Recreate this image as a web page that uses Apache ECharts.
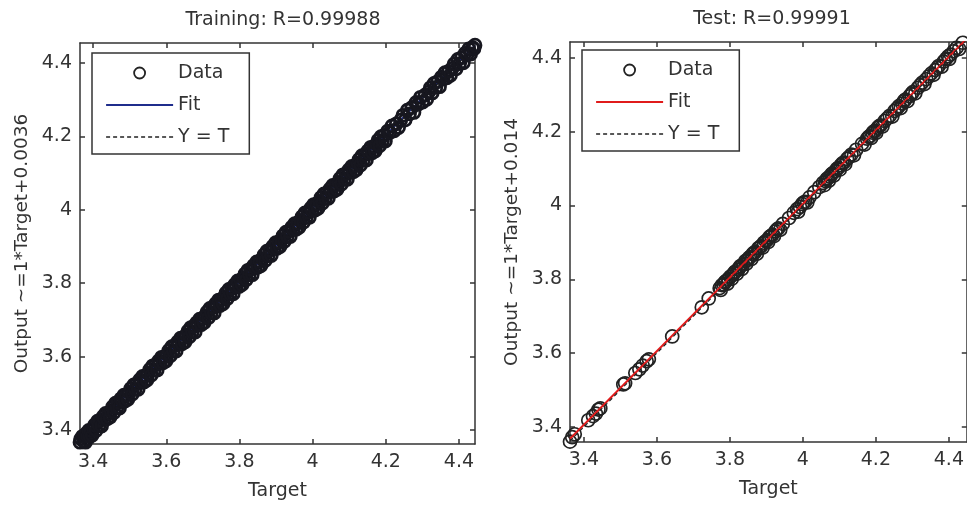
<!DOCTYPE html>
<html>
<head>
<meta charset="utf-8">
<script src="https://cdn.jsdelivr.net/npm/echarts@6/dist/echarts.min.js"></script>
<style>html,body{margin:0;padding:0;background:#fff}#c{width:967px;height:508px}</style>
</head>
<body>
<div id="c"></div>
<script>
// ---- data ----
const tickValues = [3.4, 3.6, 3.8, 4.0, 4.2, 4.4];
const titles = ['Training: R=0.99988', 'Test: R=0.99991'];
const yNames = ['Output ~=1*Target+0.0036', 'Output ~=1*Target+0.014'];
const xName = 'Target';

// [target, output]
const trainPoints = [
[3.364,3.367],[3.366,3.376],[3.369,3.360],[3.371,3.383],[3.374,3.370],[3.377,3.384],[3.379,3.367],[3.382,3.391],[3.385,3.384],[3.388,3.399],
[3.391,3.383],[3.394,3.399],[3.397,3.386],[3.401,3.404],[3.404,3.414],[3.408,3.399],[3.412,3.424],[3.416,3.412],[3.419,3.426],[3.423,3.411],
[3.427,3.436],[3.431,3.430],[3.434,3.445],[3.438,3.430],[3.442,3.447],[3.446,3.435],[3.449,3.452],[3.453,3.463],[3.457,3.448],[3.461,3.473],
[3.465,3.461],[3.468,3.475],[3.472,3.460],[3.476,3.485],[3.480,3.479],[3.484,3.495],[3.487,3.479],[3.491,3.496],[3.495,3.484],[3.499,3.502],
[3.503,3.513],[3.507,3.498],[3.511,3.523],[3.515,3.511],[3.519,3.526],[3.523,3.511],[3.527,3.536],[3.531,3.530],[3.535,3.546],[3.539,3.531],
[3.543,3.548],[3.547,3.536],[3.551,3.554],[3.555,3.565],[3.559,3.550],[3.563,3.575],[3.567,3.563],[3.571,3.578],[3.575,3.563],[3.579,3.588],
[3.583,3.582],[3.587,3.598],[3.591,3.583],[3.595,3.600],[3.599,3.588],[3.603,3.606],[3.607,3.617],[3.611,3.602],[3.615,3.627],[3.619,3.615],
[3.623,3.630],[3.627,3.615],[3.631,3.640],[3.635,3.634],[3.639,3.650],[3.643,3.635],[3.647,3.652],[3.651,3.640],[3.655,3.658],[3.659,3.669],
[3.663,3.654],[3.667,3.679],[3.671,3.667],[3.675,3.682],[3.679,3.667],[3.683,3.692],[3.687,3.686],[3.691,3.702],[3.695,3.687],[3.699,3.704],
[3.703,3.692],[3.707,3.710],[3.711,3.721],[3.715,3.706],[3.719,3.731],[3.723,3.719],[3.727,3.734],[3.731,3.719],[3.735,3.744],[3.739,3.738],
[3.743,3.754],[3.747,3.739],[3.751,3.756],[3.755,3.744],[3.759,3.762],[3.763,3.773],[3.767,3.758],[3.771,3.783],[3.775,3.771],[3.779,3.786],
[3.783,3.771],[3.787,3.796],[3.791,3.790],[3.795,3.806],[3.799,3.791],[3.803,3.808],[3.807,3.796],[3.811,3.814],[3.815,3.825],[3.819,3.810],
[3.823,3.835],[3.827,3.823],[3.831,3.838],[3.835,3.823],[3.839,3.848],[3.843,3.842],[3.847,3.858],[3.851,3.843],[3.855,3.860],[3.859,3.848],
[3.863,3.866],[3.867,3.877],[3.871,3.862],[3.875,3.887],[3.879,3.875],[3.883,3.890],[3.887,3.875],[3.891,3.900],[3.895,3.894],[3.899,3.910],
[3.903,3.895],[3.907,3.912],[3.911,3.900],[3.915,3.918],[3.919,3.929],[3.923,3.914],[3.927,3.939],[3.931,3.927],[3.935,3.942],[3.939,3.927],
[3.943,3.952],[3.947,3.946],[3.951,3.962],[3.955,3.947],[3.959,3.964],[3.963,3.952],[3.967,3.970],[3.971,3.981],[3.975,3.966],[3.979,3.991],
[3.983,3.979],[3.987,3.994],[3.991,3.979],[3.995,4.004],[3.999,3.998],[4.003,4.014],[4.007,3.999],[4.011,4.016],[4.015,4.004],[4.019,4.022],
[4.023,4.033],[4.027,4.018],[4.031,4.043],[4.035,4.031],[4.039,4.046],[4.043,4.031],[4.047,4.056],[4.051,4.050],[4.055,4.066],[4.059,4.051],
[4.063,4.068],[4.067,4.056],[4.071,4.074],[4.075,4.085],[4.079,4.070],[4.083,4.095],[4.087,4.083],[4.091,4.098],[4.095,4.083],[4.099,4.108],
[4.103,4.102],[4.107,4.118],[4.111,4.103],[4.115,4.120],[4.119,4.108],[4.123,4.126],[4.127,4.137],[4.131,4.122],[4.135,4.147],[4.139,4.135],
[4.143,4.150],[4.147,4.135],[4.151,4.160],[4.155,4.154],[4.159,4.170],[4.163,4.155],[4.167,4.172],[4.171,4.160],[4.175,4.178],[4.179,4.189],
[4.183,4.174],[4.187,4.199],[4.191,4.187],[4.195,4.202],[4.199,4.187],[4.205,4.214],[4.211,4.210],[4.217,4.228],[4.223,4.215],[4.229,4.234],
[4.235,4.224],[4.241,4.244],[4.247,4.257],[4.253,4.244],[4.259,4.271],[4.265,4.261],[4.271,4.278],[4.277,4.265],[4.283,4.292],[4.289,4.288],
[4.295,4.306],[4.301,4.293],[4.307,4.312],[4.312,4.301],[4.317,4.320],[4.322,4.332],[4.327,4.318],[4.332,4.344],[4.337,4.333],[4.342,4.349],
[4.347,4.335],[4.352,4.361],[4.357,4.356],[4.362,4.373],[4.367,4.359],[4.372,4.377],[4.377,4.366],[4.382,4.385],[4.387,4.397],[4.392,4.383],
[4.397,4.409],[4.402,4.398],[4.407,4.414],[4.412,4.400],[4.417,4.426],[4.422,4.421],[4.427,4.438],[4.432,4.424],[4.437,4.442],[4.441,4.438],
[4.444,4.448]
];

const testPoints = [
[3.362,3.360],[3.368,3.372],[3.375,3.380],[3.412,3.418],[3.425,3.429],[3.433,3.436],[3.440,3.447],[3.445,3.450],[3.508,3.515],[3.513,3.518],
[3.541,3.546],[3.552,3.556],[3.561,3.566],[3.572,3.578],[3.578,3.583],[3.642,3.645],[3.723,3.724],[3.742,3.748],[3.772,3.776],[3.778,3.784],
[3.783,3.786],[3.789,3.795],[3.796,3.801],[3.801,3.807],[3.808,3.812],[3.815,3.821],[3.823,3.826],[3.829,3.836],[3.836,3.840],[3.842,3.849],
[3.848,3.852],[3.856,3.861],[3.862,3.868],[3.869,3.873],[3.878,3.884],[3.886,3.890],[3.893,3.899],[3.902,3.906],[3.908,3.914],[3.917,3.921],
[3.925,3.930],[3.933,3.938],[3.945,3.950],[3.962,3.966],[3.975,3.980],[3.984,3.990],[3.992,3.996],[3.998,4.004],[4.006,4.010],[4.018,4.022],
[4.031,4.036],[4.045,4.050],[4.055,4.061],[4.062,4.066],[4.068,4.074],[4.074,4.078],[4.081,4.087],[4.089,4.093],[4.097,4.102],[4.104,4.109],
[4.112,4.116],[4.121,4.126],[4.133,4.138],[4.146,4.151],[4.162,4.167],[4.176,4.181],[4.184,4.188],[4.191,4.197],[4.198,4.202],[4.205,4.211],
[4.213,4.217],[4.224,4.229],[4.238,4.243],[4.251,4.256],[4.263,4.269],[4.272,4.276],[4.281,4.287],[4.292,4.296],[4.301,4.307],[4.315,4.319],
[4.327,4.333],[4.338,4.342],[4.352,4.358],[4.363,4.367],[4.372,4.378],[4.386,4.390],[4.398,4.404],[4.405,4.409],[4.421,4.427],[4.438,4.441],
[4.447,4.452],
[3.775,3.771],[3.786,3.792],[3.793,3.788],[3.805,3.801],[3.812,3.818],[3.819,3.815],[3.826,3.832],[3.833,3.828],[3.845,3.842],[3.852,3.858],
[3.859,3.855],[3.866,3.872],[3.874,3.869],[3.882,3.887],[3.890,3.886],[3.898,3.903],[3.905,3.901],[3.913,3.918],[3.921,3.917],[3.929,3.935],
[3.938,3.934],[3.987,3.983],[4.002,4.008],[4.012,4.008],[4.059,4.055],[4.065,4.071],[4.071,4.067],[4.078,4.084],[4.085,4.081],[4.093,4.099],
[4.101,4.097],[4.108,4.114],[4.116,4.112],[4.126,4.131],[4.140,4.136],[4.169,4.165],[4.180,4.186],[4.187,4.183],[4.195,4.201],[4.201,4.197],
[4.209,4.215],[4.218,4.214],[4.231,4.236],[4.245,4.241],[4.257,4.262],[4.268,4.264],[4.277,4.283],[4.287,4.283],[4.297,4.302],[4.308,4.304],
[4.321,4.326],[4.333,4.329],[4.345,4.350],[4.358,4.354],[4.368,4.373],[4.380,4.376],[4.392,4.397],[4.401,4.397],[4.413,4.418],[4.428,4.424],
[4.443,4.447]
];

const trainFit = [[3.364, 3.3676], [4.444, 4.4476]];
const testFit = [[3.362, 3.368], [4.449, 4.452]];
const trainIdeal = [[3.364, 3.364], [4.444, 4.444]];
const testIdeal = [[3.362, 3.362], [4.449, 4.449]];

// ---- styling ----
const FONT = 'DejaVu Sans';
const TXT = '#333';
const AX = '#333';
const ranges = [
  {x: [3.364, 4.444], y: [3.362, 4.454]},
  {x: [3.362, 4.449], y: [3.359, 4.443]}
];

function axis(dim, g, pos, main) {
  const r = ranges[g][dim];
  const a = {
    type: 'value', gridIndex: g, position: pos, min: r[0], max: r[1],
    axisLine: {show: true, onZero: false, lineStyle: {color: AX, width: 1.5}},
    axisTick: {show: true, inside: true, length: 5, customValues: tickValues, lineStyle: {color: AX, width: 1.5}},
    axisLabel: {show: main, customValues: tickValues, color: TXT, fontSize: 19, fontFamily: FONT, margin: dim === 'x' ? 9 : 8},
    splitLine: {show: false}
  };
  if (main) {
    a.name = dim === 'x' ? xName : yNames[g];
    a.nameLocation = 'middle';
    a.nameGap = dim === 'x' ? 38 : 48;
    a.nameTextStyle = {color: TXT, fontSize: dim === 'x' ? 19 : 18.5, fontFamily: FONT};
  }
  return a;
}

const chart = echarts.init(document.getElementById('c'), null, {renderer: 'canvas'});

function legendCfg(left, top, sfx, fitColor) {
  return {
    show: true, orient: 'vertical', left: left, top: top,
    selectedMode: false,
    backgroundColor: '#fff', borderColor: AX, borderWidth: 1.5, borderRadius: 0,
    padding: [10, 20, 7, 13],
    itemWidth: 67, itemHeight: 11, itemGap: 12,
    textStyle: {color: TXT, fontSize: 19, fontFamily: FONT, lineHeight: 20},
    formatter: n => n.trim(),
    data: [
      {name: 'Data' + sfx, icon: 'circle', itemStyle: {color: 'rgba(0,0,0,0)', borderColor: '#222', borderWidth: 1.8}},
      {name: 'Fit' + sfx, itemStyle: {opacity: 0}, lineStyle: {color: fitColor, width: 2.2, opacity: 1}},
      {name: 'Y = T' + sfx, itemStyle: {opacity: 0}, lineStyle: {color: '#222', width: 1.5, type: [4, 3], opacity: 1}}
    ]
  };
}

const option = {
  backgroundColor: '#fff',
  animation: false,
  title: [
    {text: titles[0], left: 278, top: 6, textAlign: 'center', textStyle: {color: TXT, fontSize: 19, fontWeight: 'normal', fontFamily: FONT}},
    {text: titles[1], left: 767, top: 5, textAlign: 'center', textStyle: {color: TXT, fontSize: 19, fontWeight: 'normal', fontFamily: FONT}}
  ],
  grid: [
    {left: 80, top: 43, width: 395, height: 401, containLabel: false},
    {left: 570, top: 42, width: 400, height: 400, containLabel: false}
  ],
  xAxis: [axis('x', 0, 'bottom', true), axis('x', 0, 'top', false), axis('x', 1, 'bottom', true), axis('x', 1, 'top', false)],
  yAxis: [axis('y', 0, 'left', true), axis('y', 0, 'right', false), axis('y', 1, 'left', true), axis('y', 1, 'right', false)],
  legend: [legendCfg(92, 53, '', '#1f2d8c'), legendCfg(582, 50, ' ', '#e01b1b')],
  series: [
    {name: 'Fit', type: 'line', xAxisIndex: 0, yAxisIndex: 0, data: trainFit, symbol: 'none', lineStyle: {color: '#1f2d8c', width: 2}, itemStyle: {color: '#1f2d8c'}, z: 2},
    {name: 'Data', type: 'scatter', xAxisIndex: 0, yAxisIndex: 0, data: trainPoints, symbol: 'circle', symbolSize: 12,
      itemStyle: {color: 'rgba(0,0,0,0)', borderColor: '#17171f', borderWidth: 2.8, opacity: 1}, z: 3},
    {name: 'Y = T', type: 'line', xAxisIndex: 0, yAxisIndex: 0, data: trainIdeal, symbol: 'none', lineStyle: {color: '#222', width: 1.2, type: [4, 3]}, itemStyle: {color: '#222'}, z: 2},

    {name: 'Data ', type: 'scatter', xAxisIndex: 2, yAxisIndex: 2, data: testPoints, symbol: 'circle', symbolSize: 13,
      itemStyle: {color: 'rgba(0,0,0,0)', borderColor: '#222', borderWidth: 1.7, opacity: 1}, z: 2},
    {name: 'Fit ', type: 'line', xAxisIndex: 2, yAxisIndex: 2, data: testFit, symbol: 'none', lineStyle: {color: '#e01b1b', width: 2}, itemStyle: {color: '#e01b1b'}, z: 3},
    {name: 'Y = T ', type: 'line', xAxisIndex: 2, yAxisIndex: 2, data: testIdeal, symbol: 'none', lineStyle: {color: '#222', width: 1.2, type: [4, 3]}, itemStyle: {color: '#222'}, z: 4}
  ]
};
chart.setOption(option);
</script>
</body>
</html>
